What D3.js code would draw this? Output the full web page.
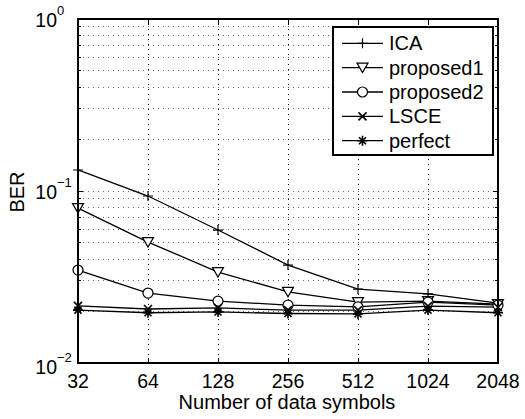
<!DOCTYPE html>
<html><head><meta charset="utf-8">
<script src="https://cdn.jsdelivr.net/npm/d3@7"></script>
<style>body{margin:0;background:#fff}svg{display:block}text{font-family:"Liberation Sans",Arial,sans-serif;fill:#000}</style>
</head><body><svg id="c" width="525" height="419"></svg>
<script>
const symbols = [32, 64, 128, 256, 512, 1024, 2048];
const seriesNames = ["ICA", "proposed1", "proposed2", "LSCE", "perfect"];
const ica       = [0.1325, 0.0935, 0.0593, 0.0371, 0.0269, 0.0252, 0.0223];
const proposed1 = [0.0796, 0.0505, 0.0338, 0.0259, 0.0226, 0.0229, 0.0220];
const proposed2 = [0.0347, 0.0255, 0.0229, 0.0217, 0.0212, 0.0226, 0.0217];
const lsce      = [0.0215, 0.0206, 0.0209, 0.0203, 0.0203, 0.0214, 0.0211];
const perfect   = [0.0203, 0.0196, 0.0198, 0.0194, 0.0193, 0.0203, 0.0196];
const yTickLabels = [{base:"10", exp:"−2"}, {base:"10", exp:"−1"}, {base:"10", exp:"0"}];
const seriesData = [ica, proposed1, proposed2, lsce, perfect];
const markers = ["plus", "tri", "circle", "x", "star"];

const svg = d3.select("#c");
const L = 78, R = 498, T = 19, B = 363;
const FS = 19.5;
const x = d3.scaleLog().base(2).domain([32, 2048]).range([L, R]);
const y = d3.scaleLog().domain([0.01, 1]).range([B, T]);

// grid
const g = svg.append("g");
const minor = [];
[0.01, 0.1].forEach(d => { for (let k = 2; k <= 9; k++) minor.push(d * k); });
const yGrid = [0.01, 0.1, 1].concat(minor);
g.selectAll(".hg").data(yGrid).enter().append("line")
  .attr("x1", L).attr("x2", R).attr("y1", d => y(d)).attr("y2", d => y(d))
  .attr("stroke", "#000").attr("stroke-width", 0.6).attr("stroke-dasharray", "1,4")
  .attr("shape-rendering", "crispEdges");
g.selectAll(".vg").data(symbols).enter().append("line")
  .attr("x1", d => x(d)).attr("x2", d => x(d)).attr("y1", T).attr("y2", B)
  .attr("stroke", "#000").attr("stroke-width", 1).attr("stroke-dasharray", "1,4")
  .attr("shape-rendering", "crispEdges");

// ticks
const tk = svg.append("g").attr("stroke", "#000").attr("stroke-width", 1).attr("shape-rendering", "crispEdges");
symbols.forEach(d => {
  tk.append("line").attr("x1", x(d)).attr("x2", x(d)).attr("y1", B).attr("y2", B - 5);
  tk.append("line").attr("x1", x(d)).attr("x2", x(d)).attr("y1", T).attr("y2", T + 5);
});
yGrid.forEach(d => {
  const len = [0.01, 0.1, 1].includes(d) ? 5 : 3;
  tk.append("line").attr("x1", L).attr("x2", L + len).attr("y1", y(d)).attr("y2", y(d));
  tk.append("line").attr("x1", R).attr("x2", R - len).attr("y1", y(d)).attr("y2", y(d));
});

// lines & markers
const line = d3.line().x((d, i) => x(symbols[i])).y(d => y(d));
const mk = (sel, type, cx, cy) => {
  const s = sel.append("g").attr("transform", `translate(${cx},${cy})`)
    .attr("fill", "none").attr("stroke", "#000").attr("stroke-width", 1.2);
  if (type === "plus") { s.append("path").attr("d", "M-5,0H5M0,-5V5"); }
  else if (type === "tri") { s.append("path").attr("d", "M-5.5,-4.5H5.5L0,5Z").attr("fill", "#fff"); }
  else if (type === "circle") { s.append("circle").attr("r", 5).attr("fill", "#fff"); }
  else if (type === "x") { s.append("path").attr("d", "M-4,-4L4,4M-4,4L4,-4").attr("stroke-width", 1.6); }
  else if (type === "star") { s.append("path").attr("d", "M-5,0H5M0,-5V5M-3.5,-3.5L3.5,3.5M-3.5,3.5L3.5,-3.5").attr("stroke-width", 1.6); }
};
seriesData.forEach((s, k) => {
  svg.append("path").datum(s).attr("d", line).attr("fill", "none").attr("stroke", "#000").attr("stroke-width", 1.3);
});
seriesData.forEach((s, k) => {
  s.forEach((v, i) => mk(svg, markers[k], x(symbols[i]), y(v)));
});

// frame
svg.append("rect").attr("x", L).attr("y", T).attr("width", R - L).attr("height", B - T)
  .attr("fill", "none").attr("stroke", "#000").attr("stroke-width", 1.5).attr("shape-rendering", "crispEdges");

// x tick labels
symbols.forEach(d => {
  svg.append("text").attr("x", x(d)).attr("y", B + 25).attr("text-anchor", "middle")
    .attr("font-size", FS).text(d);
});
// y tick labels
[0.01, 0.1, 1].forEach((d, i) => {
  const yy = i === 0 ? B + 11 : y(d) + 8;
  svg.append("text").attr("x", 57).attr("y", yy).attr("text-anchor", "end").attr("font-size", FS)
    .text(yTickLabels[i].base);
  svg.append("text").attr("x", 57).attr("y", yy - 12).attr("font-size", 13).text(yTickLabels[i].exp);
});

// axis titles
svg.append("text").attr("x", (L + R) / 2 - 1).attr("y", 409).attr("text-anchor", "middle").attr("font-size", 20)
  .text("Number of data symbols");
svg.append("text").attr("transform", `translate(24,192) rotate(-90)`).attr("text-anchor", "middle")
  .attr("font-size", 20).text("BER");

// legend
const lg = svg.append("g");
lg.append("rect").attr("x", 333).attr("y", 27).attr("width", 160).attr("height", 128)
  .attr("fill", "#fff").attr("stroke", "#000").attr("stroke-width", 1.5).attr("shape-rendering", "crispEdges");
seriesNames.forEach((n, k) => {
  const yy = 43.3 + k * 24.35;
  lg.append("line").attr("x1", 342).attr("x2", 383).attr("y1", yy).attr("y2", yy).attr("stroke", "#000").attr("stroke-width", 1.3);
  mk(lg, markers[k], 362.5, yy);
  lg.append("text").attr("x", 389).attr("y", yy + 7).attr("font-size", 20).text(n);
});
</script></body></html>
